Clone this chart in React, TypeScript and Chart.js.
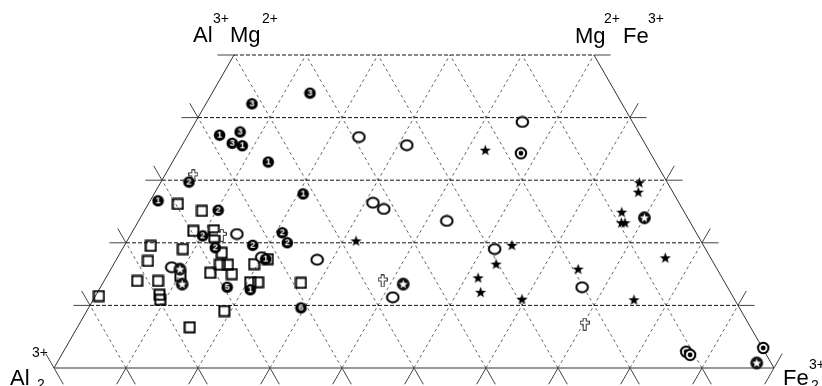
import React, { useEffect, useRef } from "react";
import { Chart, registerables } from "chart.js";

Chart.register(...registerables);

// Compositions in mol % of the Fe2 and Mg2 end-members (Al2 is the remainder).
const NUMBERED_TAGS = ["3", "3", "1", "3", "3", "1", "1", "2", "1", "1", "2", "2", "2", "2", "2", "2", "5", "1", "6", "1"];
const NUMBERED_FE = [6.4, 13.6, 4.4, 7.0, 6.8, 8.4, 13.3, 3.9, 20.7, 1.1, 10.2, 10.1, 12.8, 17.8, 20.9, 22.4, 17.6, 21.0, 29.5, 20.7];
const NUMBERED_MG = [42.2, 43.9, 37.2, 37.7, 35.9, 35.5, 32.9, 29.7, 27.8, 26.7, 25.2, 21.1, 19.2, 19.6, 21.6, 20.0, 12.9, 12.5, 9.6, 17.4];

const SQUARE_FE = [4.1, 8.0, 8.4, 11.2, 11.8, 3.7, 8.4, 14.1, 4.5, 14.8, 15.9, 14.1, 17.2, 19.5, 21.0, 20.4, 21.5, 27.5, 4.6, 7.5, 10.2, 8.8, 9.3, 0.5, 19.1, 15.6];
const SQUARE_MG = [26.2, 25.1, 21.9, 22.0, 20.9, 19.5, 19.0, 18.4, 17.1, 16.5, 16.5, 15.2, 15.0, 16.6, 17.4, 13.7, 13.7, 13.6, 13.9, 13.9, 14.7, 11.7, 10.9, 11.5, 9.1, 6.5];

const CIRCLE_FE = [23.9, 31.2, 45.4, 31.1, 33.1, 42.8, 51.7, 14.7, 20.0, 27.9, 8.3, 41.4, 66.9];
const CIRCLE_MG = [36.9, 35.6, 39.3, 26.4, 25.4, 23.5, 19.0, 21.4, 17.7, 17.3, 16.1, 11.3, 12.9];

const STAR_FE = [42.5, 31.8, 53.8, 53.1, 51.7, 53.2, 59.5, 66.5, 67.1, 66.4, 67.2, 67.7, 76.1, 64.9, 75.1];
const STAR_MG = [34.8, 20.3, 19.6, 16.6, 14.4, 12.1, 11.0, 29.6, 28.1, 24.9, 23.2, 23.2, 17.6, 15.8, 10.9];

const RING_STAR_FE = [70.0, 41.8, 97.2, 9.6, 11.1];
const RING_STAR_MG = [24.0, 13.4, 0.8, 15.8, 13.4];

const TARGET_FE = [47.7, 96.9, 86.5, 87.3];
const TARGET_MG = [34.3, 3.2, 2.6, 2.1];

const CROSS_FE = [4.0, 12.7, 38.7, 70.2];
const CROSS_MG = [30.7, 21.2, 13.9, 7.0];

// Grid: Fe2 steps along the base, Mg2 steps up to the Al/Mg – Mg/Fe join.
const BASE_STEPS = [10, 20, 30, 40, 50, 60, 70, 80, 90];
const ROW_STEPS = [10, 20, 30, 40, 50];
const MG_TOP = 50;

// Cartesian frame: x in base units (0..10), y in rows (Mg2 / 10).
const X_MIN = -0.75;
const X_MAX = 10.6667;
const Y_MIN = -0.2875;
const Y_MAX = 5.8786;

type P = { x: number | null; y: number | null };

const toXY = (fe: number, mg: number): P => ({ x: fe / 10 + mg / 20, y: mg / 10 });
const GAP: P = { x: null, y: null };

function joinSegments(segs: P[][]): P[] {
  const out: P[] = [];
  segs.forEach((s, i) => {
    if (i > 0) out.push(GAP);
    out.push(...s);
  });
  return out;
}

function buildGrid() {
  const rows: P[][] = ROW_STEPS.map((m) => [toXY(0, m), toXY(100 - m, m)]);
  const diag: P[][] = [];
  BASE_STEPS.forEach((f) => {
    // constant Fe2
    diag.push([toXY(f, 0), toXY(f, Math.min(MG_TOP, 100 - f))]);
    // constant Al2
    const a = 100 - f;
    const mgEnd = Math.min(MG_TOP, 100 - a);
    diag.push([toXY(100 - a, 0), toXY(100 - a - mgEnd, mgEnd)]);
  });
  const edges: P[][] = [
    [toXY(0, MG_TOP), toXY(0, 0), toXY(100, 0), toXY(100 - MG_TOP, MG_TOP)],
  ];
  // short outer ticks continuing the grid past the border
  const L = 0.23;
  const LB = 0.26;
  const ticks: P[][] = [];
  [0, 10, 20, 30, 40].forEach((m) => {
    const r = m / 10;
    const lx = r / 2;
    const rx = 10 - r / 2;
    if (m > 0) {
      ticks.push([{ x: lx - L, y: r }, { x: lx, y: r }]);
      ticks.push([{ x: rx, y: r }, { x: rx + L, y: r }]);
    }
    ticks.push([{ x: lx, y: r }, { x: lx - L / 2, y: r + L }]);
    ticks.push([{ x: rx, y: r }, { x: rx + L / 2, y: r + L }]);
  });
  ticks.push([{ x: 2.5 - L, y: 5 }, { x: 2.5, y: 5 }]);
  ticks.push([{ x: 7.5, y: 5 }, { x: 7.5 + L, y: 5 }]);
  [0, ...BASE_STEPS, 100].forEach((f) => {
    const x = f / 10;
    if (f > 0) ticks.push([{ x, y: 0 }, { x: x - LB / 2, y: -LB }]);
    if (f < 100) ticks.push([{ x, y: 0 }, { x: x + LB / 2, y: -LB }]);
  });
  return {
    rows: joinSegments(rows),
    diag: joinSegments(diag),
    edges: joinSegments(edges),
    ticks: joinSegments(ticks),
  };
}

function marker(w: number, h: number, draw: (g: CanvasRenderingContext2D) => void) {
  const c = document.createElement("canvas");
  c.width = w;
  c.height = h;
  const g = c.getContext("2d") as CanvasRenderingContext2D;
  draw(g);
  return c;
}

function starPath(g: CanvasRenderingContext2D, cx: number, cy: number, R: number, r: number) {
  g.beginPath();
  for (let i = 0; i < 10; i++) {
    const rad = i % 2 === 0 ? R : r;
    const a = -Math.PI / 2 + (i * Math.PI) / 5;
    const px = cx + rad * Math.cos(a);
    const py = cy + rad * Math.sin(a);
    if (i === 0) g.moveTo(px, py);
    else g.lineTo(px, py);
  }
  g.closePath();
}

const FONT = '"Liberation Sans", Arial, Helvetica, sans-serif';

function makeMarkers() {
  const square = marker(13, 13, (g) => {
    g.strokeStyle = "#000";
    g.lineWidth = 2;
    g.strokeRect(1.5, 1.5, 10, 10);
  });
  const circle = marker(15, 13, (g) => {
    g.beginPath();
    g.ellipse(7.5, 6.5, 5.8, 4.9, 0, 0, Math.PI * 2);
    g.fillStyle = "#fff";
    g.fill();
    g.strokeStyle = "#000";
    g.lineWidth = 2;
    g.stroke();
  });
  const star = marker(13, 13, (g) => {
    starPath(g, 6.5, 6.9, 5.8, 2.4);
    g.fillStyle = "#000";
    g.fill();
  });
  const ringStar = marker(15, 15, (g) => {
    g.beginPath();
    g.arc(7.5, 7.5, 6.4, 0, Math.PI * 2);
    g.fillStyle = "#111";
    g.fill();
    starPath(g, 7.5, 7.8, 4.6, 2.0);
    g.fillStyle = "#fff";
    g.fill();
  });
  const target = marker(14, 14, (g) => {
    g.beginPath();
    g.arc(7, 7, 5.2, 0, Math.PI * 2);
    g.fillStyle = "#fff";
    g.fill();
    g.strokeStyle = "#000";
    g.lineWidth = 2;
    g.stroke();
    g.beginPath();
    g.arc(7, 7, 2.4, 0, Math.PI * 2);
    g.fillStyle = "#000";
    g.fill();
  });
  const cross = marker(10, 13, (g) => {
    g.beginPath();
    g.moveTo(3.5, 0.5);
    g.lineTo(6.5, 0.5);
    g.lineTo(6.5, 3.5);
    g.lineTo(9.5, 3.5);
    g.lineTo(9.5, 6.5);
    g.lineTo(6.5, 6.5);
    g.lineTo(6.5, 12.5);
    g.lineTo(3.5, 12.5);
    g.lineTo(3.5, 6.5);
    g.lineTo(0.5, 6.5);
    g.lineTo(0.5, 3.5);
    g.lineTo(3.5, 3.5);
    g.closePath();
    g.fillStyle = "#fff";
    g.fill();
    g.strokeStyle = "#333";
    g.lineWidth = 1;
    g.stroke();
  });
  const numbered = NUMBERED_TAGS.map((t) =>
    marker(13, 13, (g) => {
      g.beginPath();
      g.arc(6.5, 6.5, 5.8, 0, Math.PI * 2);
      g.fillStyle = "#000";
      g.fill();
      g.fillStyle = "#fff";
      g.font = `bold 9px ${FONT}`;
      g.textAlign = "center";
      g.textBaseline = "middle";
      g.fillText(t, 6.5, 7);
    })
  );
  return { square, circle, star, ringStar, target, cross, numbered };
}

const series = (fe: number[], mg: number[]) => fe.map((f, i) => toXY(f, mg[i]));

const cornerLabels = {
  id: "cornerLabels",
  afterDraw(chart: any) {
    const ctx = chart.ctx as CanvasRenderingContext2D;
    const big = `22px ${FONT}`;
    const small = `14px ${FONT}`;
    const put = (text: string, x: number, y: number, font: string) => {
      ctx.font = font;
      ctx.fillText(text, x, y);
    };
    ctx.save();
    ctx.fillStyle = "#000";
    ctx.textBaseline = "alphabetic";
    ctx.textAlign = "left";
    // Al3+ Mg2+
    put("Al", 193, 42, big);
    put("3+", 213, 23, small);
    put("Mg", 230, 42, big);
    put("2+", 262, 23, small);
    // Mg2+ Fe3+
    put("Mg", 575, 43, big);
    put("2+", 604, 23, small);
    put("Fe", 623, 43, big);
    put("3+", 648, 23, small);
    // Al2 3+
    put("Al", 10, 385, big);
    put("3+", 32, 357, small);
    put("2", 37, 389, small);
    // Fe2 3+
    put("Fe", 783, 385, big);
    put("3+", 809, 369, small);
    put("2", 811, 390, small);
    ctx.restore();
  },
};

export default function App() {
  const ref = useRef<HTMLCanvasElement | null>(null);

  useEffect(() => {
    const canvas = ref.current;
    if (!canvas) return;
    const grid = buildGrid();
    const m = makeMarkers();

    const lineDs = (data: P[], color: string, dash: number[], order: number) => ({
      data,
      showLine: true,
      pointRadius: 0,
      borderColor: color,
      borderWidth: 1,
      borderDash: dash,
      spanGaps: false,
      tension: 0,
      fill: false,
      clip: false,
      order,
    });

    const pointDs = (data: P[], style: any) => ({
      data,
      showLine: false,
      pointRadius: 6,
      pointStyle: style,
      clip: false,
      order: 0,
    });

    const chart = new Chart(canvas, {
      type: "scatter",
      data: {
        datasets: [
          pointDs(series(NUMBERED_FE, NUMBERED_MG), m.numbered),
          pointDs(series(CROSS_FE, CROSS_MG), m.cross),
          pointDs(series(TARGET_FE, TARGET_MG), m.target),
          pointDs(series(RING_STAR_FE, RING_STAR_MG), m.ringStar),
          pointDs(series(STAR_FE, STAR_MG), m.star),
          pointDs(series(CIRCLE_FE, CIRCLE_MG), m.circle),
          pointDs(series(SQUARE_FE, SQUARE_MG), m.square),
          lineDs(grid.ticks, "#444", [], 5),
          lineDs(grid.edges, "#333", [], 6),
          lineDs(grid.rows, "#111", [4, 2], 7),
          lineDs(grid.diag, "#666", [3, 3], 8),
        ] as any,
      },
      options: {
        animation: false,
        responsive: false,
        events: [],
        layout: { padding: 0, autoPadding: false },
        plugins: {
          legend: { display: false },
          tooltip: { enabled: false },
        },
        scales: {
          x: { type: "linear", min: X_MIN, max: X_MAX, display: false },
          y: { type: "linear", min: Y_MIN, max: Y_MAX, display: false },
        },
      },
      plugins: [cornerLabels],
    });

    return () => chart.destroy();
  }, []);

  return (
    <div style={{ position: "absolute", left: 0, top: 0, width: 822, height: 386 }}>
      <canvas ref={ref} width={822} height={386} style={{ display: "block" }} />
    </div>
  );
}
